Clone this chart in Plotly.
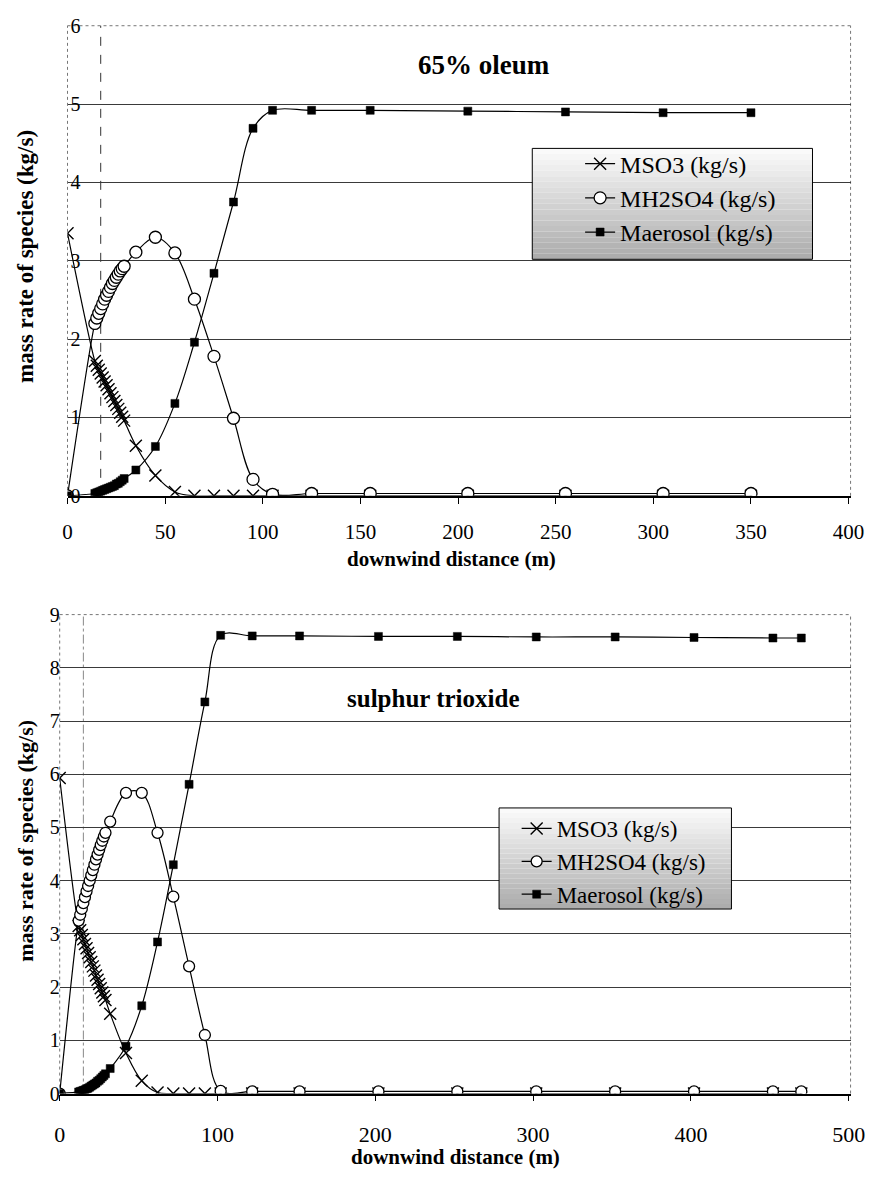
import plotly.graph_objects as go

# ---------------- data: 65% oleum (top) ----------------
top_x = [0, 14, 15, 16, 17, 18, 19, 20, 21, 22, 23, 24, 25, 26, 27, 28, 29,
         35, 45, 55, 65, 75, 85, 95, 105, 125, 155, 205, 255, 305, 350]
top_mso3 = [3.35, 1.72, 1.66, 1.61, 1.56, 1.51, 1.46, 1.41, 1.36, 1.31, 1.26, 1.21, 1.16, 1.11, 1.06, 1.01, 0.96,
            0.64, 0.26, 0.05, 0.0, 0.0, 0.0, 0.0, 0.0, 0.0, 0.0, 0.0, 0.0, 0.0, 0.0]
top_mh2so4 = [0.0, 2.20, 2.27, 2.33, 2.39, 2.45, 2.51, 2.56, 2.61, 2.66, 2.71, 2.75, 2.79, 2.83, 2.87, 2.90, 2.93,
              3.11, 3.30, 3.10, 2.51, 1.78, 0.99, 0.21, 0.02, 0.03, 0.03, 0.03, 0.03, 0.03, 0.03]
top_aero = [0.0, 0.03, 0.04, 0.05, 0.06, 0.07, 0.08, 0.09, 0.10, 0.11, 0.12, 0.13, 0.15, 0.16, 0.18, 0.20, 0.22,
            0.33, 0.63, 1.18, 1.96, 2.84, 3.75, 4.69, 4.92, 4.92, 4.92, 4.91, 4.90, 4.89, 4.89]
top_ref_x = 17

# ---------------- data: sulphur trioxide (bottom) ----------------
bot_x = [0, 12, 13, 14, 15, 16, 17, 18, 19, 20, 21, 22, 23, 24, 25, 26, 27, 28, 29,
         32, 42, 52, 62, 72, 82, 92, 102, 122, 152, 202, 252, 302, 352, 402, 452, 470]
bot_mso3 = [5.93, 3.15, 3.07, 2.98, 2.90, 2.81, 2.73, 2.64, 2.56, 2.47, 2.39, 2.31, 2.22, 2.14, 2.06, 1.98, 1.90, 1.83, 1.76,
            1.50, 0.76, 0.24, 0.02, 0.0, 0.0, 0.0, 0.0, 0.0, 0.0, 0.0, 0.0, 0.0, 0.0, 0.0, 0.0, 0.0]
bot_mh2so4 = [0.0, 3.25, 3.36, 3.47, 3.58, 3.69, 3.80, 3.90, 4.00, 4.10, 4.20, 4.30, 4.40, 4.49, 4.58, 4.67, 4.75, 4.83, 4.90,
              5.11, 5.65, 5.65, 4.90, 3.70, 2.39, 1.10, 0.05, 0.04, 0.04, 0.04, 0.04, 0.04, 0.04, 0.04, 0.04, 0.04]
bot_aero = [0.0, 0.03, 0.04, 0.05, 0.06, 0.07, 0.09, 0.10, 0.12, 0.14, 0.16, 0.18, 0.20, 0.23, 0.25, 0.28, 0.31, 0.34, 0.37,
            0.47, 0.89, 1.65, 2.85, 4.30, 5.81, 7.36, 8.61, 8.60, 8.60, 8.59, 8.59, 8.58, 8.58, 8.57, 8.56, 8.56]
bot_ref_x = 15

series_names = ["MSO3 (kg/s)", "MH2SO4 (kg/s)", "Maerosol (kg/s)"]
top_yticks = [0, 1, 2, 3, 4, 5, 6]
bot_yticks = [0, 1, 2, 3, 4, 5, 6, 7, 8, 9]
top_xticks = [0, 50, 100, 150, 200, 250, 300, 350, 400]
bot_xticks = [0, 100, 200, 300, 400, 500]

SERIF = "Liberation Serif"
W, H = 889, 1187

fig = go.Figure()

styles = [
    dict(symbol="x-thin", size=12, color="black", line=dict(color="black", width=1.4)),
    dict(symbol="circle", size=12, color="white", line=dict(color="black", width=1.3)),
    dict(symbol="square", size=8, color="black", line=dict(color="black", width=0.5)),
]


def add_series(xs, ys_list, xa, ya, legend, circ_size):
    for name, ys, st in zip(series_names, ys_list, styles):
        m = dict(st)
        if m["symbol"] == "circle":
            m["size"] = circ_size
        fig.add_trace(go.Scatter(
            x=xs, y=ys, name=name, mode="lines+markers",
            line=dict(color="black", width=1.2, shape="spline", smoothing=1.0),
            marker=m, xaxis=xa, yaxis=ya, legend=legend))


add_series(top_x, [top_mso3, top_mh2so4, top_aero], "x", "y", "legend", 12)
add_series(bot_x, [bot_mso3, bot_mh2so4, bot_aero], "x2", "y2", "legend2", 11)

axis_common = dict(showgrid=False, zeroline=False, showline=True, linecolor="black", linewidth=1.5,
                   ticks="outside", ticklen=6, tickcolor="black", layer="above traces")
yaxis_common = dict(showgrid=True, gridcolor="#3a3a3a", gridwidth=1, zeroline=False, showline=False,
                    ticks="", tickfont=dict(family=SERIF, size=20, color="black"))

fig.update_layout(
    width=W, height=H, margin=dict(l=0, r=0, t=0, b=0),
    paper_bgcolor="white", plot_bgcolor="white",
    xaxis=dict(domain=[63 / W, 865 / W], range=[0, 401], tickvals=top_xticks, anchor="y",
               ticklabelstandoff=10, tickfont=dict(family=SERIF, size=21, color="black"), **axis_common),
    yaxis=dict(domain=[1 - 494 / H, 1 - 15 / H], range=[0, 6], tickvals=top_yticks, anchor="x",
               ticklabelstandoff=-14, **yaxis_common),
    xaxis2=dict(domain=[55 / W, 865 / W], range=[0, 501.2], tickvals=bot_xticks, anchor="y2",
                ticklabelstandoff=14, tickfont=dict(family=SERIF, size=22, color="black"), **axis_common),
    yaxis2=dict(domain=[1 - 1103 / H, 1 - 615 / H], range=[0, 9], tickvals=bot_yticks, anchor="x2",
                ticklabelstandoff=-1, **yaxis_common),
    legend=dict(x=588 / W, y=1 - 133 / H, xanchor="left", yanchor="top", bgcolor="rgba(0,0,0,0)",
                borderwidth=0, font=dict(family=SERIF, size=24, color="black"), tracegroupgap=0),
    legend2=dict(x=523 / W, y=1 - 811 / H, xanchor="left", yanchor="top", bgcolor="rgba(0,0,0,0)",
                 borderwidth=0, font=dict(family=SERIF, size=23, color="black"), tracegroupgap=0),
)

shapes = []
# dotted plot-area borders (left, top, right)
for xa, ya in (("x", "y"), ("x2", "y2")):
    for (x0, y0, x1, y1) in ((0, 0, 0, 1), (0, 1, 1, 1), (1, 0, 1, 1)):
        shapes.append(dict(type="line", xref=f"{xa} domain", yref=f"{ya} domain", x0=x0, x1=x1, y0=y0, y1=y1,
                           line=dict(color="#777777", width=1, dash="dot"), layer="below"))
# vertical reference lines
shapes.append(dict(type="line", xref="x", yref="y domain", x0=top_ref_x, x1=top_ref_x, y0=0, y1=1,
                   line=dict(color="#333333", width=1, dash="dash"), layer="below"))
shapes.append(dict(type="line", xref="x2", yref="y2 domain", x0=bot_ref_x, x1=bot_ref_x, y0=0, y1=1,
                   line=dict(color="#888888", width=1, dash="dashdot"), layer="below"))


# legend boxes with vertical gradient
def legend_box(px0, px1, py0, py1, n=20):
    for i in range(n):
        t = i / (n - 1)
        g = int(round(250 - t * (250 - 172)))
        y_top = py0 + (py1 - py0) * i / n
        y_bot = py0 + (py1 - py0) * (i + 1) / n
        shapes.append(dict(type="rect", xref="paper", yref="paper",
                           x0=px0 / W, x1=px1 / W, y0=1 - y_bot / H, y1=1 - y_top / H,
                           fillcolor=f"rgb({g},{g},{g})", line=dict(width=0), layer="above"))
    shapes.append(dict(type="rect", xref="paper", yref="paper",
                       x0=px0 / W, x1=px1 / W, y0=1 - py1 / H, y1=1 - py0 / H,
                       line=dict(color="black", width=1), fillcolor="rgba(0,0,0,0)", layer="above"))


legend_box(539, 826, 140, 253)
legend_box(505, 743, 812, 915)
fig.update_layout(shapes=shapes)

ann = [
    dict(text="<b>65% oleum</b>", x=490 / W, y=1 - 55 / H, font=dict(size=27)),
    dict(text="<b>sulphur trioxide</b>", x=438 / W, y=1 - 700 / H, font=dict(size=25)),
    dict(text="<b>mass rate of species (kg/s)</b>", x=20 / W, y=1 - 250 / H, textangle=-90, font=dict(size=23)),
    dict(text="<b>mass rate of species (kg/s)</b>", x=20 / W, y=1 - 846 / H, textangle=-90, font=dict(size=22)),
    dict(text="<b>downwind distance (m)</b>", x=456 / W, y=1 - 558 / H, font=dict(size=21)),
    dict(text="<b>downwind distance (m)</b>", x=460 / W, y=1 - 1168 / H, font=dict(size=21)),
]
for a in ann:
    a.update(xref="paper", yref="paper", showarrow=False, xanchor="center", yanchor="middle")
    a["font"].update(family=SERIF, color="black")
fig.update_layout(annotations=ann)

fig.write_html("out.html")
